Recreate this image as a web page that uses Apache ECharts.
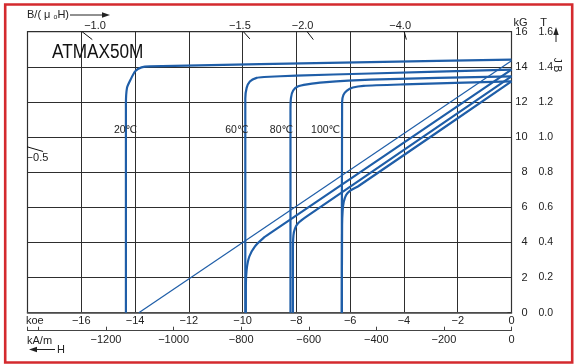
<!DOCTYPE html>
<html><head><meta charset="utf-8">
<script src="https://cdn.jsdelivr.net/npm/echarts@6/dist/echarts.min.js"></script>
<style>html,body{margin:0;padding:0;background:#fff}#c{width:576px;height:364px}</style>
</head><body><div id="c"></div>
<script>
// ---- data ----
const hTicksKAm = [-1200, -1000, -800, -600, -400, -200, 0];
const hMinorKAm = [-1400];
const tempLabels = ['20℃', '60℃', '80℃', '100℃'];
const tempLabelH = [-14.35, -10.21, -8.55, -6.91];
const tempLabelB = 10.42;

// intrinsic curves J (kG) vs H (kOe)
const j20 = [[0,14.41],[-5.25,14.27],[-13.45,14.03],[-13.76,13.97],[-14.0,13.74],[-14.17,13.26],[-14.3,12.8],[-14.34,11.85],[-14.34,0]];
const j60 = [[0,13.84],[-5.25,13.62],[-8.0,13.5],[-9.2,13.42],[-9.48,13.37],[-9.73,13.17],[-9.85,12.8],[-9.9,12.2],[-9.9,0]];
const j80 = [[0,13.46],[-5.25,13.27],[-7.0,13.12],[-7.6,13.0],[-7.95,12.88],[-8.12,12.65],[-8.2,12.25],[-8.22,11.5],[-8.22,0]];
const j100 = [[0,13.17],[-4.0,13.0],[-5.5,12.92],[-5.9,12.82],[-6.12,12.65],[-6.25,12.4],[-6.3,12.0],[-6.31,0]];
// normal curves B (kG) vs H (kOe)
const b20 = [[0,14.35],[-13.86,0]];
const b60 = [[0,13.84],[-9.0,4.5],[-9.23,4.25],[-9.54,3.78],[-9.75,3.2],[-9.85,2.45],[-9.88,1.5],[-9.88,0]];
const b80 = [[0,13.46],[-7.6,5.5],[-7.93,5.11],[-8.05,4.8],[-8.11,4.4],[-8.13,3.5],[-8.13,0]];
const b100 = [[0,13.17],[-5.7,7.2],[-6.0,6.95],[-6.15,6.7],[-6.24,6.3],[-6.28,5.8],[-6.3,5.0],[-6.31,0]];

// permeance coefficient markers B/(mu0 H)
const pcText = ['\u22120.5', '\u22121.0', '\u22121.5', '\u22122.0', '\u22124.0'];
const pcStart = [[-18.07,9.47],[-15.97,16],[-9.97,16],[-7.6,16],[-3.99,16]];
const pcEnd = [[-17.42,9.18],[-15.59,15.55],[-9.73,15.59],[-7.37,15.55],[-3.91,15.55]];
const pcLabelPos = [[-17.63,8.83],[-15.49,16.3],[-10.1,16.3],[-7.77,16.3],[-4.14,16.3]];

// ---- chart ----
const KAM_PER_KOE = 79.5775;
const FONT = '"Liberation Sans", Arial, "DejaVu Sans", "Noto Sans CJK SC", sans-serif';
const blue = '#1f5ea8';
const ink = '#222';
const minus = v => v < 0 ? '\u2212' + Math.abs(v) : String(v);

const chart = echarts.init(document.getElementById('c'), null, {renderer: 'canvas'});

const curve = (data, w) => ({
  type: 'line', data, xAxisIndex: 0, yAxisIndex: 0, symbol: 'none', smooth: 0.2,
  lineStyle: {color: blue, width: w}, silent: true, z: 3
});

const series = [
  curve(j20, 2.2), curve(j60, 2.2), curve(j80, 2.2), curve(j100, 2.2),
  curve(b20, 1.2), curve(b60, 2.2), curve(b80, 2.2), curve(b100, 2.2)
];
pcStart.forEach((s, i) => {
  series.push({type: 'line', data: [s, pcEnd[i]], xAxisIndex: 0, yAxisIndex: 0, symbol: 'none',
    clip: false, silent: true, lineStyle: {color: '#111', width: 1}, z: 4});
});

const option = {
  animation: false,
  backgroundColor: '#fff',
  textStyle: {fontFamily: FONT},
  grid: {left: 27.5, right: 64.5, top: 31.7, bottom: 51.3, show: true, borderColor: '#333', borderWidth: 1.2},
  xAxis: [
    {type: 'value', min: -18, max: 0, interval: 2, position: 'bottom',
     axisLine: {show: true, lineStyle: {color: '#555', width: 1.6}},
     axisTick: {show: false},
     axisLabel: {formatter: v => v === -18 ? '' : minus(v), margin: 3, fontSize: 11, color: ink, fontFamily: FONT},
     splitLine: {show: true, lineStyle: {color: '#2e2e2e', width: 1}}},
    {type: 'value', min: -18 * KAM_PER_KOE, max: 0, position: 'bottom', offset: 18,
     axisLine: {show: true, onZero: false, lineStyle: {color: '#444', width: 1}},
     axisTick: {show: true, inside: true, length: 4, lineStyle: {color: '#444'},
       customValues: [-18 * KAM_PER_KOE].concat(hMinorKAm, hTicksKAm)},
     axisLabel: {customValues: hTicksKAm, formatter: v => minus(v), margin: 4, fontSize: 11, color: ink, fontFamily: FONT},
     splitLine: {show: false}}
  ],
  yAxis: [
    {type: 'value', min: 0, max: 16, interval: 2, position: 'right', offset: 24,
     axisLine: {show: true, lineStyle: {color: '#333', width: 1}},
     axisTick: {show: true, inside: true, length: 4, lineStyle: {color: '#333'}},
     axisLabel: {inside: true, margin: 8, fontSize: 11, color: ink, fontFamily: FONT},
     splitLine: {show: true, lineStyle: {color: '#2e2e2e', width: 1}}},
    {type: 'value', min: 0, max: 1.6, interval: 0.2, position: 'right', offset: 24,
     axisLine: {show: false}, axisTick: {show: false},
     axisLabel: {margin: 3, fontSize: 10.5, color: ink, fontFamily: FONT, formatter: v => v.toFixed(1)},
     splitLine: {show: false}}
  ],
  series,
  graphic: []
};
chart.setOption(option);

const px = (h, b) => chart.convertToPixel({xAxisIndex: 0, yAxisIndex: 0}, [h, b]);
const g = [
  {type: 'rect', shape: {x: 5.2, y: 4.5, width: 567, height: 358}, style: {fill: 'none', stroke: '#d42a2e', lineWidth: 2.6}, z: 10},
  {type: 'text', x: 52, y: 52.5, scaleX: 0.86, style: {text: 'ATMAX50M', fontSize: 20, fontFamily: FONT, fill: '#111', textVerticalAlign: 'middle'}, z: 10},
  {type: 'text', x: 27, y: 14.5, style: {text: '{a|B/( μ }{s|o}{a|H)}', fontFamily: FONT, textVerticalAlign: 'middle',
     rich: {a: {fontSize: 11, fill: ink, fontFamily: FONT}, s: {fontSize: 7, fill: ink, fontFamily: FONT, padding: [5, 0, 0, 0]}}}, z: 10},
  {type: 'line', shape: {x1: 70, y1: 15, x2: 106, y2: 15}, style: {stroke: ink, lineWidth: 1}, z: 10},
  {type: 'polygon', shape: {points: [[110, 15], [102, 12.3], [102, 17.7]]}, style: {fill: ink}, z: 10},
  {type: 'text', x: 26, y: 321, style: {text: 'koe', fontSize: 11, fontFamily: FONT, fill: ink, textVerticalAlign: 'middle'}, z: 10},
  {type: 'text', x: 27, y: 340.5, style: {text: 'kA/m', fontSize: 11, fontFamily: FONT, fill: ink, textVerticalAlign: 'middle'}, z: 10},
  {type: 'line', shape: {x1: 33, y1: 349.5, x2: 55, y2: 349.5}, style: {stroke: ink, lineWidth: 1}, z: 10},
  {type: 'polygon', shape: {points: [[29, 349.5], [37, 346.8], [37, 352.2]]}, style: {fill: ink}, z: 10},
  {type: 'text', x: 57, y: 350, style: {text: 'H', fontSize: 11, fontFamily: FONT, fill: ink, textVerticalAlign: 'middle'}, z: 10},
  {type: 'text', x: 520.5, y: 23, style: {text: 'kG', fontSize: 11, fontFamily: FONT, fill: ink, textAlign: 'center', textVerticalAlign: 'middle'}, z: 10},
  {type: 'text', x: 543.5, y: 23, style: {text: 'T', fontSize: 11, fontFamily: FONT, fill: ink, textAlign: 'center', textVerticalAlign: 'middle'}, z: 10},
  {type: 'line', shape: {x1: 556, y1: 42, x2: 556, y2: 31}, style: {stroke: ink, lineWidth: 1}, z: 10},
  {type: 'polygon', shape: {points: [[556, 27], [553.3, 35], [558.7, 35]]}, style: {fill: ink}, z: 10},
  {type: 'text', x: 557, y: 65, rotation: -Math.PI / 2, style: {text: 'J B', fontSize: 10, fontFamily: FONT, fill: ink, textAlign: 'center', textVerticalAlign: 'middle'}, z: 10}
];
pcText.forEach((t, i) => {
  const p = px(pcLabelPos[i][0], pcLabelPos[i][1]);
  g.push({type: 'text', x: p[0], y: p[1], style: {text: t, fontSize: 11, fontFamily: FONT, fill: ink, textAlign: 'center', textVerticalAlign: 'middle'}, z: 10});
});
tempLabels.forEach((t, i) => {
  const p = px(tempLabelH[i], tempLabelB);
  g.push({type: 'text', x: p[0], y: p[1], style: {text: t, fontSize: 10.5, fontFamily: FONT, fill: ink, textAlign: 'center', textVerticalAlign: 'middle'}, z: 10});
});
chart.setOption({graphic: g});
</script>
</body></html>
